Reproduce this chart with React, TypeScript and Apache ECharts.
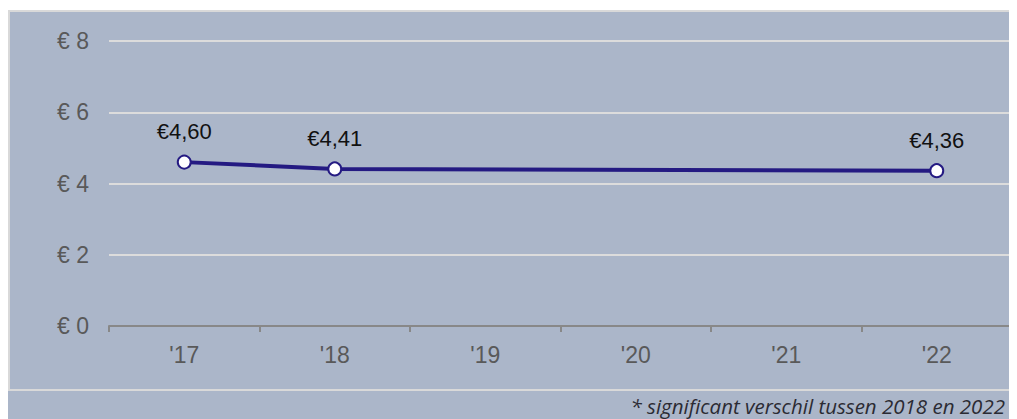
import React, { useEffect, useRef } from "react";
import * as echarts from "echarts";

const categories = ["'17", "'18", "'19", "'20", "'21", "'22"];
const values: (number | null)[] = [4.6, 4.41, null, null, null, 4.36];
const yTicks = [0, 2, 4, 6, 8];
const footnote = "* significant verschil tussen 2018 en 2022";

const BG = "#ABB6C9";
const BORDER = "#D9D9D9";

export default function App() {
  const ref = useRef<HTMLDivElement>(null);
  useEffect(() => {
    if (!ref.current) return;
    const chart = echarts.init(ref.current, undefined, { renderer: "svg" });
    chart.setOption({
      animation: false,
      backgroundColor: "#ffffff",
      graphic: [
        { type: "rect", shape: { x: 0, y: 2, width: 1009, height: 2 }, style: { fill: BORDER }, z: -10 },
        { type: "rect", shape: { x: 0, y: 2, width: 2, height: 380 }, style: { fill: BORDER }, z: -10 },
        { type: "rect", shape: { x: 2, y: 4, width: 1007, height: 377 }, style: { fill: BG }, z: -10 },
        { type: "rect", shape: { x: 0, y: 381, width: 1009, height: 2 }, style: { fill: BORDER }, z: -10 },
        { type: "rect", shape: { x: 0, y: 383, width: 1009, height: 28 }, style: { fill: BG }, z: -10 },
        {
          type: "text",
          x: 997,
          y: 398,
          style: {
            text: footnote,
            font: "italic 20.5px 'Open Sans'",
            fill: "#2b2b33",
            textAlign: "right",
            textVerticalAlign: "middle",
          },
          z: 10,
        },
      ],
      grid: { left: 101, right: 5, top: 33, bottom: 93, containLabel: false },
      xAxis: {
        type: "category",
        data: categories,
        boundaryGap: true,
        axisLine: { show: true, lineStyle: { color: "#888888", width: 2 } },
        axisTick: { show: true, length: 6, lineStyle: { color: "#888888", width: 2 } },
        axisLabel: { color: "#595959", fontSize: 23, fontFamily: "Arial, 'Liberation Sans'", margin: 17 },
        splitLine: { show: false },
      },
      yAxis: {
        type: "value",
        min: yTicks[0],
        max: yTicks[yTicks.length - 1],
        interval: 2,
        axisLine: { show: false },
        axisTick: { show: false },
        axisLabel: {
          color: "#595959",
          fontSize: 23,
          fontFamily: "Arial, 'Liberation Sans'",
          margin: 20,
          formatter: (v: number) => "€ " + v,
        },
        splitLine: { show: true, lineStyle: { color: "#DCDCDC", width: 2 } },
      },
      series: [
        {
          type: "line",
          data: values,
          connectNulls: true,
          symbol: "circle",
          symbolSize: 13,
          lineStyle: { color: "#241A82", width: 4 },
          itemStyle: { color: "#ffffff", borderColor: "#241A82", borderWidth: 2 },
          label: {
            show: true,
            position: "top",
            distance: 12,
            color: "#111111",
            fontSize: 22,
            fontFamily: "Arial, 'Liberation Sans'",
            formatter: (p: any) => "€" + Number(p.value).toFixed(2).replace(".", ","),
          },
        },
      ],
    });
    return () => chart.dispose();
  }, []);
  return <div ref={ref} style={{ width: 1009, height: 411 }} />;
}
